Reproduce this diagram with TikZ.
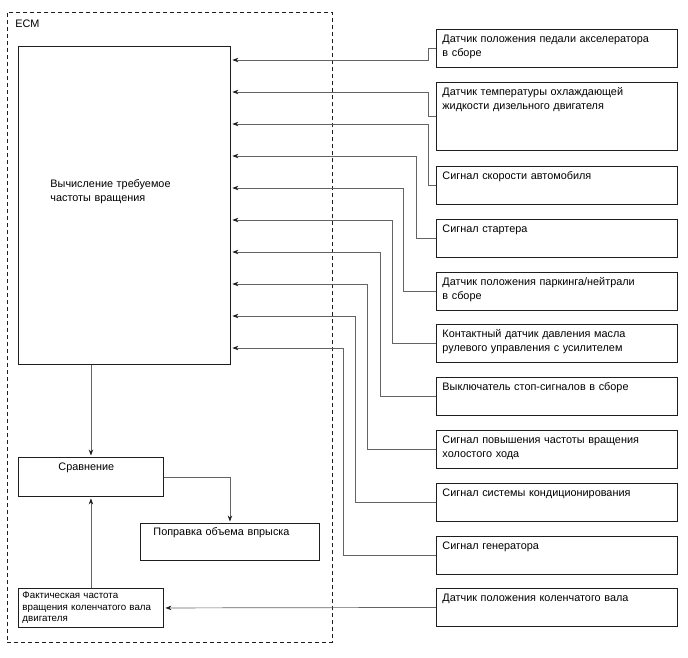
\documentclass[tikz,border=0pt]{standalone}
\definecolor{frame}{RGB}{30,30,30}
\definecolor{wire}{RGB}{100,100,100}
\usepackage{fontspec}
\setmainfont{Liberation Sans}
\usepackage{tikz}
\usetikzlibrary{arrows.meta, positioning, calc}

\begin{document}
\begin{tikzpicture}[
  x=1bp, y=-1bp,
  box/.style={draw=frame, line width=0.9bp, anchor=north west, align=left,
              font=\fontsize{10.9}{14}\selectfont, inner ysep=0pt,
              text height=13bp, text depth=25bp},
  sensor/.style={box, inner xsep=6bp, text width=229bp},
  sig/.style={draw=wire, line width=0.7bp,
              -{Stealth[length=6bp, width=4.5bp, color=frame]},
              shorten >=1.5bp}
]
  \useasboundingbox (0,0) rectangle (688,658);

  % ECM border
  \node[draw=frame, line width=0.7bp, dash pattern=on 4bp off 3bp,
        anchor=north west, align=left, inner ysep=0pt, inner xsep=8bp,
        text width=309bp, text height=15bp, text depth=615bp,
        font=\fontsize{10.9}{14}\selectfont] (ecm)
    at (7,12) {ECM};

  % Calculation of the target speed
  \node[box, inner xsep=32bp, text width=148bp, text height=141bp,
        text depth=177bp] (calc)
    at (18,46) {Вычисление требуемое\\частоты вращения};

  % Comparison
  \node[box, inner xsep=40bp, text width=65bp, text depth=26bp] (comp)
    at (18,457) {Сравнение};
  % Injection correction
  \node[box, inner xsep=13bp, text width=153bp, text height=12bp] (corr)
    at (140,523) {Поправка объема впрыска};
  % Actual crankshaft speed
  \node[box, inner xsep=4bp, text width=137bp, text height=10.5bp,
        text depth=28.5bp, font=\fontsize{9.8}{11.5}\selectfont] (act)
    at (18,588) {Фактическая частота\\вращения коленчатого вала\\двигателя};

  % Input signals
  \node[sensor] (s1) at (436,29)
    {Датчик положения педали акселератора\\в сборе};
  \node[sensor, text depth=55bp] (s2) at (436,82)
    {Датчик температуры охлаждающей\\жидкости дизельного двигателя};
  \node[sensor] (s3) at (436,166) {Сигнал скорости автомобиля};
  \node[sensor] (s4) at (436,219) {Сигнал стартера};
  \node[sensor] (s5) at (436,272)
    {Датчик положения паркинга/нейтрали\\в сборе};
  \node[sensor] (s6) at (436,324)
    {Контактный датчик давления масла\\рулевого управления с усилителем};
  \node[sensor] (s7) at (436,377) {Выключатель стоп-сигналов в сборе};
  \node[sensor] (s8) at (436,430)
    {Сигнал повышения частоты вращения\\холостого хода};
  \node[sensor] (s9) at (436,483) {Сигнал системы кондиционирования};
  \node[sensor] (s10) at (436,536) {Сигнал генератора};
  \node[sensor] (s11) at (436,588) {Датчик положения коленчатого вала};

  % Wires into the calculation block
  \draw[sig] (s1.west) -- ++(-8,0) |- ([yshift=-14bp]calc.north east);
  \draw[sig] (s2.west) -- ++(-8,0) |- ([yshift=-46bp]calc.north east);
  \draw[sig] (s3.west) -- ++(-8,0) |- ([yshift=-78bp]calc.north east);
  \draw[sig] (s4.west) -- ++(-20,0) |- ([yshift=-110bp]calc.north east);
  \draw[sig] (s5.west) -- ++(-33,0) |- ([yshift=-142bp]calc.north east);
  \draw[sig] (s6.west) -- ++(-44,0) |- ([yshift=-174bp]calc.north east);
  \draw[sig] (s7.west) -- ++(-56,0) |- ([yshift=-206bp]calc.north east);
  \draw[sig] (s8.west) -- ++(-69,0) |- ([yshift=-238bp]calc.north east);
  \draw[sig] (s9.west) -- ++(-81,0) |- ([yshift=-270bp]calc.north east);
  \draw[sig] (s10.west) -- ++(-93,0) |- ([yshift=-302bp]calc.north east);
  \draw[sig] (s11.west) -- (act.east);

  % Inner flow
  \draw[sig] (calc.south -| comp.north) -- (comp.north);
  \draw[sig] (act.north) -- (comp.south);
  \draw[sig] (comp.east) -| (corr.north);
\end{tikzpicture}
\end{document}
